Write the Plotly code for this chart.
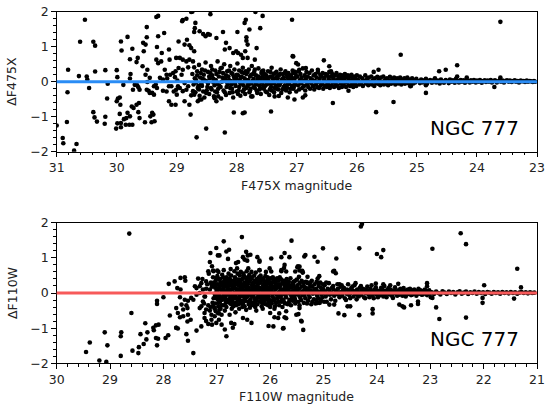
import plotly.graph_objects as go

# ---------------- F475X panel (top) : (magnitude, delta) ----------------
f475x_faint = [
    (30.53, 1.77), (30.61, 1.14), (30.39, 1.14), (30.36, 1.03), (30.81, 0.34), (30.63, 0.16), (30.50, 0.15),
    (30.49, 0.06), (30.46, -0.18), (30.82, -0.30), (30.36, 0.29), (31.0, -1.25), (30.83, -1.15), (30.90, -1.61),
    (30.89, -1.76), (30.67, -1.78), (30.71, -1.97), (30.39, -0.87), (30.37, -1.02), (30.33, -1.14), (30.19, 0.33),
    (30.15, -0.06), (30.16, -0.48), (30.19, -1.0), (30.20, -1.20), (30.0, 0.33), (29.99, 0.13), (30.0, -0.56),
    (29.98, -0.48), (29.95, -0.45), (29.94, -0.66), (30.01, -1.34), (29.99, -1.19), (29.93, -1.30), (29.95, -0.92),
    (29.93, 1.15), (29.92, 0.89), (29.82, 1.28), (29.78, 0.64), (29.74, 0.94), (29.78, 0.09), (29.77, 0.22),
    (29.89, -0.09), (29.73, -0.23), (29.70, -0.09), (29.66, -0.10), (29.64, -0.16), (29.62, -0.23), (29.88, -1.07),
    (29.84, -1.04), (29.82, -0.89), (29.78, -0.99), (29.75, -0.71), (29.74, -1.23), (29.72, -0.75), (29.85, -1.23),
    (29.93, -1.18), (29.79, -1.23), (29.67, -0.66), (29.63, -0.61), (29.64, -0.87), (29.62, -1.04), (29.67, 0.56),
    (29.65, 0.68), (29.56, 1.11), (29.55, 0.87), (29.52, 1.06), (29.50, 1.56), (29.50, 1.27), (29.57, 0.44),
    (29.49, 0.34), (29.45, 0.11), (29.52, 0.20), (29.49, -0.01), (29.50, -0.23), (29.47, -0.26), (29.45, -0.32),
    (29.44, -0.99), (29.41, -0.89), (29.39, -0.94), (29.53, -1.16), (29.42, -1.16), (29.37, -1.13), (29.38, -0.13),
    (29.35, -0.08), (29.33, -0.18), (29.41, -0.32), (29.38, -0.37), (29.34, 1.85), (29.31, 1.30), (29.33, 0.99),
    (29.21, 1.39), (29.34, 0.63), (29.31, 0.53), (29.26, 0.58), (29.25, 0.82), (29.20, 0.34), (29.13, 0.92),
    (29.12, 0.63), (29.17, 0.20), (29.11, 0.20), (29.06, 0.25), (29.02, 0.30), (29.01, 0.68), (28.97, 1.15),
    (29.28, 0.11), (29.23, 0.06), (29.16, 0.09), (29.23, -0.26), (29.17, -0.28), (29.13, -0.13), (29.09, -0.13),
    (29.05, -0.28), (29.00, -0.37), (29.13, -0.56), (29.09, -0.66), (29.02, -0.66), (28.98, -0.13), (29.03, 0.13),
    (28.99, 0.03),
]
f475x_mid = [
    (28.76, 1.99), (28.44, 1.93), (28.91, 1.73), (28.84, 1.80), (28.69, 1.68), (28.70, 1.53), (28.71, 1.42),
    (28.62, 1.44), (28.56, 1.36), (28.52, 1.30), (28.48, 1.36), (28.45, 1.34), (28.34, 1.25), (28.23, 1.42),
    (27.99, 1.42), (27.87, 1.68), (27.85, 1.77), (27.79, 1.49), (27.69, 1.99), (27.57, 1.88), (27.61, 1.53),
    (27.08, 1.77), (28.87, 1.06), (28.83, 1.20), (28.79, 1.04), (28.76, 0.96), (28.71, 0.87), (28.18, 1.11),
    (28.20, 0.92), (28.12, 0.96), (28.06, 0.82), (28.01, 0.87), (27.98, 0.82), (27.93, 0.77), (27.86, 0.87),
    (27.84, 1.27), (27.84, 1.17), (27.82, 1.06), (27.67, 0.96), (27.90, 0.68), (27.70, 0.63), (27.82, 0.68),
    (27.06, 0.72), (28.95, 0.68), (28.90, 0.63), (28.84, 0.58), (28.79, 0.63), (28.73, 0.58), (28.97, 0.39),
    (28.90, 0.34), (28.81, 0.41), (28.92, 0.20), (28.87, -0.04), (28.81, -0.13), (29.01, -0.23), (28.95, -0.18),
    (28.90, -0.27), (28.84, -0.23), (28.73, -0.27), (28.76, -0.39), (28.71, -0.37), (28.79, -0.66), (28.87, -0.56),
    (28.65, -0.56), (28.62, -0.51), (28.59, -0.51), (28.37, -0.47), (28.34, -0.56), (28.31, -0.42), (28.77, -0.94),
    (28.67, -1.59), (28.51, -1.34), (28.20, -1.45), (28.05, -0.88), (27.90, -0.90), (27.87, -0.88), (27.43, -0.85),
    (27.04, -0.51), (27.76, -0.42), (27.37, -0.42), (27.15, -0.45), (28.74, 2.0), (28.90, 1.76), (29.31, 1.88),
]
f475x_bright = [
    (27.01, 0.53), (26.98, 0.49), (26.96, 0.34), (26.85, 0.39), (26.55, 0.61), (26.46, 0.44), (26.43, 0.30),
    (26.65, 0.34), (26.40, -0.61), (26.14, -0.26), (25.72, 0.28), (25.64, 0.34), (25.68, -0.87), (25.39, -0.58),
    (25.27, 0.77), (25.11, -0.13), (26.90, -0.45), (27.30, -0.41), (26.86, -0.39), (27.07, 0.73), (23.61, 1.71),
    (24.63, 0.30), (24.52, 0.34), (24.33, 0.47), (24.33, 0.15), (24.17, 0.12), (24.85, -0.10), (24.85, -0.32),
    (23.71, -0.15), (23.61, 0.12), (25.10, -0.12),
]
f475x_band_a = [
    (28.74, 0.22), (28.72, -0.08), (28.71, 0.41), (28.69, -0.30), (28.68, 0.05), (28.66, 0.30), (28.65, -0.18),
    (28.63, 0.48), (28.62, -0.40), (28.61, 0.12), (28.59, -0.05), (28.58, 0.35), (28.56, -0.28), (28.55, 0.20),
    (28.54, -0.45), (28.52, 0.55), (28.51, 0.02), (28.49, -0.15), (28.48, 0.28), (28.46, -0.35), (28.45, 0.10),
    (28.43, 0.45), (28.42, -0.22), (28.41, 0.18), (28.39, -0.02), (28.38, -0.42), (28.36, 0.32), (28.35, 0.05),
    (28.33, -0.30), (28.32, 0.58), (28.30, 0.15), (28.29, -0.12), (28.27, 0.38), (28.26, -0.48), (28.25, 0.00),
    (28.23, 0.25), (28.22, -0.25), (28.21, 0.50), (28.19, 0.08), (28.18, -0.38), (28.16, 0.30), (28.15, -0.08),
    (28.14, 0.15), (28.12, -0.32), (28.11, 0.45), (28.10, 0.02), (28.08, -0.20), (28.07, 0.22), (28.06, -0.45),
    (28.04, 0.35), (28.03, -0.05), (28.02, 0.12), (28.00, -0.28), (27.99, 0.52), (27.98, 0.18), (27.96, -0.15),
    (27.95, 0.05), (27.94, -0.40), (27.92, 0.28), (27.91, -0.02), (27.90, 0.40), (27.88, -0.22), (27.87, 0.10),
    (27.86, -0.35), (27.84, 0.22), (27.83, 0.00), (27.82, -0.12), (27.80, 0.35), (27.79, -0.30), (27.78, 0.15),
    (27.76, -0.05), (27.75, 0.45), (27.74, -0.42), (27.72, 0.08), (27.71, 0.28), (27.70, -0.18), (27.68, 0.18),
    (27.67, -0.25), (27.66, 0.02), (27.64, 0.38), (27.63, -0.10), (27.62, 0.12), (27.60, -0.35), (27.59, 0.25),
    (27.58, -0.02), (27.56, 0.32), (27.55, -0.20), (27.54, 0.08), (27.52, -0.28), (27.51, 0.18), (27.50, -0.08),
    (27.48, 0.30), (27.47, 0.02), (27.46, -0.38), (27.44, 0.15), (27.43, -0.15), (27.42, 0.40), (27.40, -0.05),
    (27.39, 0.22), (27.38, -0.30), (27.36, 0.10), (27.35, -0.12), (27.34, 0.28), (27.32, 0.00), (27.31, -0.22),
    (27.30, 0.18), (27.28, -0.05), (27.27, 0.35), (27.26, -0.32), (27.24, 0.08), (27.23, 0.22), (27.22, -0.15),
    (27.20, 0.02), (27.19, 0.30), (27.18, -0.25), (27.16, 0.12), (27.15, -0.08), (27.14, 0.25), (27.12, -0.30),
    (27.11, 0.05), (27.10, 0.18), (27.08, -0.12), (27.07, 0.32), (27.06, -0.20), (27.04, 0.10), (27.03, -0.02),
    (27.02, 0.22), (27.01, -0.28), (28.70, 0.10), (28.64, -0.12), (28.57, 0.08), (28.50, -0.25), (28.44, 0.25),
    (28.37, -0.10), (28.31, -0.20), (28.24, 0.12), (28.17, -0.15), (28.13, 0.05), (28.09, -0.08), (28.05, 0.15),
    (28.01, 0.08), (27.97, -0.25), (27.93, 0.12), (27.89, -0.10), (27.85, 0.30), (27.81, 0.05), (27.77, -0.20),
    (27.73, 0.22), (27.69, -0.08), (27.65, 0.10), (27.61, -0.18), (27.57, 0.15), (27.53, -0.12), (27.49, 0.05),
    (27.45, -0.22), (27.41, 0.12), (27.37, -0.18), (27.33, 0.15), (27.29, -0.10), (27.25, 0.05), (27.21, -0.18),
    (27.17, 0.20), (27.13, -0.05), (27.09, 0.12), (27.05, -0.15), (27.03, 0.28),
]
f475x_core = [
    (28.68, -0.02), (28.66, 0.18), (28.63, -0.22), (28.60, 0.25), (28.58, -0.12), (28.55, 0.06), (28.53, 0.32),
    (28.51, -0.32), (28.48, -0.05), (28.46, 0.15), (28.43, -0.18), (28.41, 0.35), (28.39, 0.08), (28.36, -0.28),
    (28.34, 0.22), (28.32, -0.06), (28.29, 0.28), (28.27, -0.15), (28.25, 0.40), (28.22, 0.05), (28.20, -0.30),
    (28.18, 0.18), (28.16, -0.02), (28.13, 0.32), (28.11, -0.18), (28.09, 0.25), (28.07, -0.30), (28.04, 0.08),
    (28.02, -0.12), (28.00, 0.20), (27.98, -0.35), (27.96, 0.32), (27.94, -0.05), (27.92, 0.15), (27.90, -0.28),
    (27.88, 0.25), (27.86, 0.05), (27.84, -0.18), (27.82, 0.28), (27.80, -0.08), (27.78, -0.25), (27.76, 0.20),
    (27.74, 0.02), (27.72, -0.15), (27.70, 0.35), (27.68, -0.02), (27.66, -0.32), (27.64, 0.15), (27.62, -0.22),
    (27.60, 0.08), (27.58, 0.30), (27.56, -0.10), (27.54, 0.22), (27.52, 0.05), (27.50, -0.30), (27.48, 0.12),
    (27.46, -0.05), (27.44, 0.28), (27.42, -0.25), (27.40, 0.08), (27.38, -0.02), (27.36, 0.25), (27.34, -0.20),
    (27.32, 0.10), (27.30, -0.08), (27.28, 0.22), (27.26, 0.00), (27.24, -0.22), (27.22, 0.12), (27.20, -0.10),
    (27.18, 0.25), (27.16, -0.18), (27.14, 0.05), (27.12, 0.15), (27.10, -0.20), (27.08, 0.08), (27.06, 0.25),
    (27.04, -0.08), (27.02, 0.12),
]
f475x_band_b = [
    (26.99, 0.15), (26.98, -0.10), (26.97, 0.30), (26.96, -0.22), (26.95, 0.05), (26.94, 0.22), (26.93, -0.05),
    (26.92, 0.12), (26.91, -0.18), (26.90, 0.38), (26.89, 0.02), (26.88, -0.12), (26.87, 0.18), (26.86, -0.25),
    (26.85, 0.08), (26.84, 0.28), (26.83, -0.08), (26.82, 0.15), (26.81, -0.15), (26.80, 0.00), (26.79, 0.25),
    (26.78, -0.20), (26.77, 0.10), (26.76, -0.05), (26.75, 0.32), (26.74, 0.05), (26.73, -0.12), (26.72, 0.18),
    (26.71, -0.22), (26.70, 0.02), (26.69, 0.22), (26.68, -0.08), (26.67, 0.12), (26.66, -0.15), (26.65, 0.28),
    (26.64, 0.00), (26.63, -0.18), (26.62, 0.08), (26.61, 0.20), (26.60, -0.10), (26.59, 0.15), (26.58, -0.05),
    (26.57, 0.25), (26.56, -0.20), (26.55, 0.05), (26.54, 0.12), (26.53, -0.12), (26.52, 0.22), (26.51, 0.00),
    (26.50, -0.15), (26.49, 0.18), (26.48, -0.08), (26.47, 0.08), (26.46, 0.28), (26.45, -0.18), (26.44, 0.02),
    (26.43, 0.15), (26.42, -0.10), (26.41, 0.22), (26.40, -0.02), (26.39, 0.10), (26.38, -0.15), (26.37, 0.18),
    (26.36, 0.00), (26.35, -0.08), (26.34, 0.25), (26.33, 0.05), (26.32, -0.12), (26.31, 0.15), (26.30, -0.18),
    (26.29, 0.08), (26.28, 0.20), (26.27, -0.05), (26.26, 0.12), (26.25, -0.15), (26.24, 0.02), (26.23, 0.18),
    (26.22, -0.10), (26.21, 0.08), (26.20, 0.22), (26.19, -0.02), (26.18, -0.15), (26.17, 0.12), (26.16, 0.00),
    (26.15, 0.18), (26.14, -0.10), (26.13, 0.05), (26.12, 0.15), (26.11, -0.12), (26.10, 0.02), (26.09, 0.20),
    (26.08, -0.08), (26.07, 0.10), (26.06, -0.15), (26.05, 0.05), (26.04, 0.15), (26.03, -0.05), (26.02, 0.08),
    (26.01, -0.12), (26.00, 0.18),
]
f475x_band_c = [
    (25.98, 0.05), (25.96, -0.08), (25.95, 0.15), (25.93, -0.02), (25.91, 0.10), (25.90, -0.12), (25.88, 0.02),
    (25.86, 0.18), (25.85, -0.05), (25.83, 0.08), (25.81, -0.10), (25.80, 0.12), (25.78, 0.00), (25.76, 0.15),
    (25.75, -0.08), (25.73, 0.05), (25.71, -0.12), (25.70, 0.10), (25.68, -0.02), (25.66, 0.14), (25.65, -0.06),
    (25.63, 0.06), (25.61, -0.10), (25.60, 0.12), (25.58, 0.00), (25.56, 0.15), (25.55, -0.08), (25.53, 0.05),
    (25.51, -0.05), (25.50, 0.10), (25.48, -0.10), (25.46, 0.02), (25.45, 0.14), (25.43, -0.06), (25.41, 0.08),
    (25.40, -0.02), (25.38, 0.12), (25.36, -0.08), (25.35, 0.04), (25.33, 0.10), (25.31, -0.05), (25.30, 0.02),
    (25.28, 0.12), (25.26, -0.08), (25.25, 0.06), (25.23, -0.02), (25.21, 0.10), (25.20, -0.06), (25.18, 0.04),
    (25.16, 0.12), (25.15, -0.04), (25.13, 0.06), (25.11, -0.08), (25.10, 0.02), (25.08, 0.10), (25.06, -0.05),
    (25.05, 0.05), (25.03, -0.02), (25.01, 0.08),
]
f475x_band_d = [
    (24.98, 0.02), (24.95, -0.04), (24.93, 0.06), (24.90, -0.02), (24.88, 0.04), (24.85, 0.08), (24.83, -0.05),
    (24.80, 0.02), (24.78, 0.05), (24.75, -0.03), (24.72, 0.04), (24.70, 0.10), (24.68, -0.02), (24.65, 0.03),
    (24.62, -0.05), (24.60, 0.06), (24.57, 0.01), (24.55, -0.03), (24.52, 0.05), (24.50, 0.02), (24.47, -0.04),
    (24.45, 0.06), (24.42, 0.00), (24.40, 0.04), (24.37, -0.03), (24.35, 0.08), (24.32, 0.02), (24.30, -0.02),
    (24.27, 0.05), (24.25, 0.00), (24.22, 0.04), (24.20, -0.03), (24.17, 0.06), (24.15, 0.01), (24.12, -0.02),
    (24.10, 0.04), (24.07, 0.00), (24.05, 0.05), (24.02, -0.02), (24.00, 0.03), (23.97, 0.00), (23.95, 0.05),
    (23.92, -0.03), (23.90, 0.02), (23.87, 0.04), (23.85, -0.01), (23.82, 0.03), (23.80, 0.00), (23.77, 0.05),
    (23.75, -0.02), (23.72, 0.02), (23.70, 0.04), (23.67, -0.02), (23.65, 0.01), (23.62, 0.05), (23.60, 0.00),
    (23.57, 0.03), (23.55, -0.02), (23.52, 0.02), (23.50, 0.04), (23.47, 0.00), (23.45, 0.03), (23.42, -0.01),
    (23.40, 0.02), (23.37, 0.04), (23.35, 0.00), (23.32, 0.02), (23.30, -0.02), (23.27, 0.03), (23.25, 0.01),
    (23.22, 0.02), (23.20, -0.01), (23.17, 0.03), (23.15, 0.00), (23.12, 0.02), (23.10, 0.01), (23.07, -0.01),
    (23.05, 0.02), (23.03, 0.00),
]

# ---------------- F110W panel (bottom) : (magnitude, delta) ----------------
f110w_faint = [
    (28.64, 1.69), (27.90, 0.26), (27.79, 0.33), (28.00, -0.12), (28.12, -0.22), (28.12, -0.31), (28.60, -0.57),
    (27.88, -0.64), (29.45, -1.68), (29.38, -1.41), (29.10, -1.12), (29.05, -1.49), (29.20, -1.92), (29.07, -1.96),
    (28.80, -1.23), (28.79, -1.12), (28.80, -1.79), (28.58, -1.64), (28.46, -1.54), (28.47, -1.71), (28.43, -1.17),
    (28.37, -1.45), (28.32, -1.32), (28.30, -1.12), (28.34, -0.86), (28.19, -0.99), (28.18, -1.06), (28.14, -0.92),
    (28.09, -0.90), (28.14, -1.28), (28.12, -1.49), (28.10, -1.30), (27.96, -1.28), (27.91, -1.20), (27.76, -0.99),
    (27.73, -1.01), (27.69, -0.12),
]
f110w_mid = [
    (26.87, 1.47), (26.53, 1.59), (25.60, 1.49), (27.01, 1.28), (27.12, 1.14), (26.98, 1.07), (26.95, 1.07),
    (26.82, 1.18), (26.77, 1.23), (26.79, 0.97), (26.60, 0.88), (26.64, 0.85), (26.51, 1.02), (26.45, 1.17),
    (26.42, 1.07), (26.37, 1.09), (26.43, 0.92), (26.48, 0.95), (26.24, 1.02), (26.20, 0.92), (25.98, 0.98),
    (25.73, 1.14), (25.79, 1.02), (25.64, 1.02), (25.79, 0.62), (25.74, 0.71), (25.48, 0.76), (27.13, 0.88),
    (27.07, 0.64), (26.99, 0.64), (27.09, 0.76), (27.16, 0.62), (27.68, 0.43), (27.60, 0.45), (27.59, 0.35),
    (27.35, 0.41), (27.74, 0.14), (27.68, 0.10), (27.41, 0.19), (27.38, 0.14), (27.26, 0.10), (27.20, 0.12),
    (27.60, -0.19), (27.54, -0.22), (27.66, -0.33), (27.57, -0.35), (27.48, -0.14), (27.44, -0.19), (27.76, -0.43),
    (27.73, -0.57), (27.63, -0.47), (27.55, -0.43), (27.69, -0.69), (27.63, -0.66), (27.54, -0.62), (27.49, -0.76),
    (27.55, -0.81), (27.76, -0.99), (27.57, -1.17), (27.54, -1.36), (27.44, -1.71), (27.38, -1.07), (27.29, -0.95),
    (27.23, -0.71), (27.20, -0.80), (27.16, -0.88), (27.10, -0.76), (27.04, -0.66), (27.09, -0.90), (27.01, -0.85),
    (26.96, -0.76), (26.91, -0.90), (26.85, -1.04), (26.82, -1.23), (26.73, -0.85), (26.70, -0.99), (26.67, -0.88),
    (26.51, -0.71), (26.43, -0.76), (26.35, -0.85), (25.94, -0.95), (25.85, -0.71), (25.73, -0.69), (25.70, -0.52),
    (25.76, -1.01), (26.00, -0.57), (25.92, -0.45), (27.32, -0.43), (27.29, -0.38), (27.23, -0.57), (27.20, -0.47),
    (27.16, -0.35), (27.13, -0.50), (27.10, -0.62), (27.26, -0.24), (27.07, -0.38), (27.04, -0.43), (26.98, -0.57),
    (26.95, -0.47), (26.91, -0.62), (27.38, -0.05), (27.32, 0.00), (27.23, -0.10), (27.29, 0.28), (27.20, 0.33),
    (27.10, 0.24), (27.32, 0.19),
]
f110w_bright = [
    (24.30, 1.89), (24.28, 1.96), (24.33, 1.27), (24.00, 1.11), (23.92, 1.02), (23.88, 1.22), (25.34, 1.08),
    (25.36, 1.04), (25.01, 1.27), (25.17, 1.03), (25.11, 0.89), (24.76, 0.98), (24.80, 0.63), (25.08, 0.48),
    (25.11, 0.41), (25.49, 0.73), (25.45, 0.64), (25.39, 0.59), (25.30, 0.46), (25.51, -0.62), (25.47, -0.60),
    (25.41, -0.81), (25.38, -1.05), (25.45, -0.43), (24.72, -0.58), (24.61, -0.63), (24.33, -0.63), (24.08, -0.46),
    (24.08, -0.58), (23.58, -0.33), (23.52, -0.38), (23.49, -0.41), (23.36, -0.35), (24.89, -0.33), (24.80, -0.33),
    (24.55, -0.38), (24.50, -0.38), (25.11, -0.28), (23.60, 0.26), (22.43, 1.70), (22.33, 1.39), (22.96, 1.26),
    (21.37, 0.69), (21.99, 0.22), (21.30, 0.16), (23.06, 0.28), (23.06, 0.19), (22.83, -0.74), (22.33, -0.70),
    (22.89, -0.41), (22.96, -0.14), (22.99, -0.12), (23.23, -0.24), (23.23, -0.31), (22.02, -0.14), (22.02, -0.28),
    (21.43, -0.16), (25.75, -1.00), (26.03, -0.94), (25.70, -0.72), (25.42, -0.79), (25.83, -0.58), (25.92, -0.69),
    (26.20, 0.89), (26.20, 0.65), (26.01, 0.70), (25.98, 0.61), (25.79, 0.65), (25.73, 0.80), (25.70, 0.61),
    (25.53, 0.61), (25.45, 0.75), (25.40, 0.63), (25.39, 0.58), (25.46, 0.46), (25.30, 0.30), (24.82, 0.61),
    (24.77, 0.56), (24.95, 0.30), (24.70, 0.25), (24.40, 0.28), (24.02, 0.27), (23.88, 0.25), (23.75, 0.22),
]
f110w_band_a = [
    (27.27, 0.40), (27.24, -0.30), (27.22, -0.10), (27.18, 0.25),
    (27.15, 0.55), (27.13, 0.10), (27.12, -0.40), (27.11, 0.30),
    (27.09, 0.18), (27.08, -0.28), (27.07, 0.45), (27.06, -0.15),
    (27.05, 0.22), (27.04, -0.45), (27.06, 0.62), (27.03, -0.08), (27.02, 0.35), (27.01, 0.00),
    (27.03, -0.30), (27.00, 0.12), (27.02, -0.52), (26.99, 0.48), (26.98, -0.18), (27.00, 0.08),
    (26.97, -0.38), (26.99, 0.25), (26.96, 0.15), (26.95, -0.05), (26.97, 0.60), (26.94, -0.25),
    (26.96, -0.58), (26.93, 0.30), (26.92, -0.12), (26.94, 0.40), (26.91, 0.02), (26.93, -0.45),
    (26.90, 0.52), (26.89, 0.20), (26.91, -0.20), (26.88, -0.35), (26.90, 0.05), (26.87, -0.08),
    (26.86, 0.35), (26.88, 0.10), (26.85, -0.50), (26.87, 0.65), (26.84, 0.25), (26.83, -0.28),
    (26.85, 0.00), (26.82, 0.45), (26.84, -0.15), (26.81, 0.40), (26.80, 0.12), (26.82, -0.40),
    (26.79, -0.05), (26.81, 0.28), (26.78, 0.55), (26.77, -0.18), (26.79, 0.18), (26.76, -0.62),
    (26.78, 0.02), (26.75, 0.30), (26.74, -0.10), (26.76, 0.42), (26.73, -0.32), (26.75, 0.08),
    (26.74, 0.68), (26.72, 0.20), (26.71, -0.25), (26.73, 0.50), (26.70, -0.05), (26.72, -0.45),
    (26.71, 0.12), (26.69, 0.35), (26.68, 0.00), (26.70, -0.18), (26.67, 0.62), (26.69, -0.38),
    (26.68, 0.22), (26.66, 0.45), (26.65, -0.08), (26.67, 0.15), (26.64, -0.28), (26.66, 0.30),
    (26.65, -0.55), (26.63, 0.28), (26.62, 0.05), (26.64, -0.35), (26.61, 0.55), (26.63, -0.15),
    (26.62, 0.70), (26.60, 0.38), (26.59, -0.20), (26.61, 0.10), (26.58, -0.45), (26.60, 0.22),
    (26.59, 0.00), (26.57, 0.50), (26.56, 0.15), (26.58, -0.12), (26.55, -0.30), (26.57, 0.32),
    (26.56, 0.05), (26.54, 0.25), (26.53, -0.05), (26.55, 0.60), (26.52, -0.40), (26.54, 0.12),
    (26.53, -0.22), (26.51, 0.42), (26.50, 0.02), (26.52, -0.28), (26.49, 0.18), (26.51, -0.10),
    (26.50, 0.55), (26.48, 0.30), (26.47, -0.15), (26.49, 0.48), (26.46, 0.08), (26.48, -0.38),
    (26.47, -0.05), (26.45, 0.20), (26.44, 0.38), (26.46, -0.22), (26.43, 0.00), (26.45, -0.48),
    (26.44, 0.62), (26.42, 0.45), (26.41, 0.12), (26.43, -0.10), (26.40, -0.32), (26.42, 0.25),
    (26.41, 0.70), (26.39, 0.32), (26.38, -0.05), (26.40, 0.15), (26.37, -0.25), (26.39, 0.52),
    (26.38, -0.42), (26.36, 0.40), (26.35, 0.05), (26.37, -0.18), (26.34, 0.22), (26.36, -0.35),
    (26.35, 0.60), (26.33, 0.28), (26.32, -0.10), (26.34, 0.45), (26.31, 0.10), (26.33, -0.28),
    (26.32, 0.00), (26.30, 0.50), (26.29, 0.18), (26.31, -0.05), (26.28, -0.40), (26.30, 0.30),
    (26.29, -0.15), (26.27, 0.35), (26.26, 0.00), (26.28, -0.22), (26.25, 0.12), (26.27, 0.58),
    (26.26, -0.50), (26.24, 0.22), (26.23, -0.12), (26.25, 0.40), (26.22, 0.05), (26.24, -0.32),
    (26.23, 0.15), (26.21, 0.45), (26.20, 0.10), (26.22, -0.08), (26.19, -0.25), (26.21, 0.28),
    (26.20, 0.65), (26.18, 0.30), (26.17, -0.02), (26.19, 0.15), (26.16, -0.38), (26.18, 0.50),
    (26.17, -0.15), (26.15, 0.38), (26.14, 0.08), (26.16, -0.18), (26.13, 0.22), (26.15, -0.05),
    (26.14, -0.45), (26.12, 0.25), (26.11, -0.10), (26.13, 0.42), (26.10, 0.00), (26.12, -0.30),
    (26.11, 0.15), (26.09, 0.48), (26.08, 0.12), (26.10, -0.22), (26.07, 0.30), (26.09, -0.08),
    (26.08, 0.60), (26.06, 0.35), (26.05, -0.05), (26.07, 0.18), (26.04, -0.35), (26.06, 0.05),
    (26.05, -0.18), (26.03, 0.28), (26.02, 0.10), (26.04, -0.12), (26.01, 0.40), (26.03, -0.28),
    (26.02, 0.02), (26.00, 0.42), (25.99, 0.00), (26.01, -0.20), (25.98, 0.15), (26.00, -0.40),
    (25.99, 0.25),
]
f110w_core = [
    (27.05, 0.30), (27.03, 0.15), (27.01, -0.15), (26.99, 0.02), (26.97, -0.28), (26.95, 0.38), (26.93, 0.10),
    (26.91, -0.35), (26.89, 0.28), (26.87, -0.18), (26.85, 0.18), (26.83, 0.05), (26.81, -0.25), (26.79, 0.35),
    (26.77, 0.08), (26.75, -0.15), (26.73, 0.25), (26.71, -0.05), (26.69, 0.12), (26.67, -0.30), (26.65, 0.40),
    (26.63, 0.00), (26.61, -0.22), (26.59, 0.28), (26.57, -0.08), (26.55, 0.18), (26.53, 0.38), (26.51, -0.30),
    (26.49, 0.05), (26.47, 0.25), (26.45, -0.12), (26.43, 0.32), (26.41, -0.25), (26.39, 0.08), (26.37, 0.42),
    (26.35, -0.08), (26.33, 0.15), (26.31, -0.35), (26.29, 0.35), (26.27, 0.05), (26.25, -0.20), (26.23, 0.28),
    (26.21, -0.02), (26.19, 0.40), (26.17, 0.12), (26.15, -0.28), (26.13, 0.05), (26.11, 0.32), (26.09, -0.15),
    (26.07, 0.22), (26.05, 0.45), (26.03, -0.05), (26.01, 0.15), (25.99, -0.30), (25.97, 0.20), (25.95, 0.02),
    (25.93, -0.15), (25.91, 0.30), (25.89, -0.02), (25.87, 0.15), (25.85, -0.25), (25.83, 0.25), (25.81, -0.10),
    (25.79, 0.38), (25.77, 0.05), (25.75, -0.20), (25.73, 0.22), (25.71, -0.05), (25.69, 0.30), (25.67, 0.10),
    (25.65, -0.28), (25.63, 0.18), (25.61, 0.00), (25.59, -0.18), (25.57, 0.25), (25.55, 0.08), (25.53, -0.22),
    (25.51, 0.15), (27.04, -0.02), (27.00, 0.42), (26.96, -0.10), (26.92, 0.22), (26.88, 0.45), (26.84, -0.08),
    (26.80, 0.22), (26.76, -0.28), (26.72, 0.35), (26.68, -0.12), (26.64, 0.12), (26.60, -0.32), (26.56, 0.30),
    (26.52, 0.10), (26.48, -0.22), (26.44, 0.15), (26.40, 0.45), (26.36, -0.02), (26.32, 0.25), (26.28, -0.28),
    (26.24, 0.05), (26.20, 0.35), (26.16, -0.12), (26.12, 0.10), (26.08, -0.32), (26.04, 0.28), (26.00, 0.08),
    (25.96, -0.22), (25.92, 0.18), (25.88, 0.35), (25.84, -0.05), (25.80, 0.10), (25.76, 0.28), (25.72, -0.30),
    (25.68, 0.05), (25.64, 0.20), (25.60, -0.05), (25.56, 0.32),
]
f110w_band_b = [
    (25.97, 0.30), (25.96, -0.10), (25.98, 0.08), (25.97, -0.30), (25.95, 0.45),
    (25.93, 0.15), (25.92, -0.20), (25.94, 0.38), (25.93, 0.00), (25.91, -0.38),
    (25.89, 0.25), (25.88, -0.05), (25.90, 0.10), (25.89, -0.28), (25.87, 0.42),
    (25.85, 0.35), (25.84, 0.02), (25.86, -0.15), (25.85, 0.18), (25.83, -0.35),
    (25.81, 0.20), (25.80, -0.08), (25.82, 0.45), (25.81, 0.05), (25.79, -0.25),
    (25.77, 0.30), (25.76, 0.10), (25.78, -0.18), (25.77, -0.40), (25.75, 0.00),
    (25.73, 0.12), (25.72, -0.05), (25.74, 0.35), (25.73, -0.28), (25.71, 0.22),
    (25.69, 0.40), (25.68, 0.05), (25.70, -0.12), (25.69, 0.18), (25.67, -0.32),
    (25.65, 0.25), (25.64, -0.20), (25.66, 0.08), (25.65, 0.32), (25.63, -0.02),
    (25.61, 0.15), (25.60, -0.10), (25.62, 0.42), (25.61, -0.35), (25.59, 0.05),
    (25.57, 0.30), (25.56, 0.00), (25.58, -0.22), (25.57, 0.18), (25.55, -0.08),
    (25.53, 0.35), (25.52, 0.10), (25.54, -0.15), (25.53, -0.30), (25.51, 0.02),
    (25.49, 0.22), (25.48, -0.05), (25.50, 0.38), (25.49, 0.08), (25.47, -0.25),
    (25.45, 0.28), (25.44, -0.12), (25.46, 0.12), (25.45, -0.35), (25.43, 0.00),
    (25.41, 0.35), (25.40, 0.05), (25.42, -0.20), (25.41, 0.18), (25.39, -0.05),
    (25.37, 0.20), (25.36, -0.08), (25.38, 0.30), (25.37, -0.28), (25.35, 0.10),
    (25.33, 0.32), (25.32, 0.02), (25.34, -0.15), (25.33, 0.15), (25.31, -0.30),
    (25.29, 0.12), (25.28, -0.05), (25.30, 0.28), (25.29, -0.22), (25.27, 0.05),
    (25.25, 0.30), (25.24, 0.08), (25.26, -0.12), (25.25, 0.20), (25.23, -0.32),
    (25.21, 0.18), (25.20, -0.02), (25.22, 0.35), (25.21, -0.25), (25.19, 0.05),
    (25.17, 0.25), (25.16, 0.10), (25.18, -0.18), (25.17, 0.00), (25.15, -0.30),
    (25.13, 0.32), (25.12, -0.08), (25.14, 0.12), (25.13, -0.22), (25.11, 0.05),
    (25.09, 0.20), (25.08, 0.02), (25.10, -0.15), (25.09, 0.28), (25.07, -0.28),
    (25.05, 0.15), (25.04, -0.05), (25.06, 0.30), (25.05, -0.20), (25.03, 0.08),
    (25.01, 0.25), (25.00, 0.00), (25.02, -0.12), (25.01, 0.12), (24.99, -0.25),
]
f110w_band_c = [
    (24.97, 0.05), (24.96, -0.10), (24.98, 0.22), (24.93, -0.02), (24.92, 0.12), (24.94, -0.25),
    (24.89, 0.08), (24.88, -0.05), (24.90, 0.28), (24.85, 0.00), (24.84, 0.15), (24.86, -0.18),
    (24.81, 0.10), (24.80, -0.08), (24.82, 0.20), (24.77, -0.03), (24.76, 0.05), (24.78, -0.22),
    (24.73, 0.12), (24.72, -0.05), (24.74, 0.25), (24.69, 0.02), (24.68, 0.18), (24.70, -0.12),
    (24.65, -0.08), (24.64, 0.08), (24.66, 0.22), (24.61, 0.05), (24.60, -0.15), (24.62, 0.15),
    (24.57, -0.02), (24.56, 0.10), (24.58, -0.20), (24.53, 0.08), (24.52, -0.06), (24.54, 0.25),
    (24.49, 0.00), (24.48, 0.14), (24.50, -0.15), (24.45, 0.06), (24.44, -0.10), (24.46, 0.18),
    (24.41, -0.03), (24.40, 0.05), (24.42, 0.22), (24.37, 0.10), (24.36, -0.06), (24.38, -0.18),
    (24.33, 0.02), (24.32, 0.15), (24.34, -0.10), (24.29, -0.05), (24.28, 0.08), (24.30, 0.20),
    (24.25, 0.04), (24.24, -0.12), (24.26, 0.12), (24.21, 0.00), (24.20, 0.10), (24.22, -0.15),
    (24.17, 0.06), (24.16, -0.04), (24.18, 0.18), (24.13, -0.02), (24.12, 0.12), (24.14, -0.12),
    (24.09, 0.05), (24.08, -0.08), (24.10, 0.22), (24.05, 0.00), (24.04, 0.10), (24.06, -0.15),
    (24.01, 0.08), (24.00, -0.05), (24.02, 0.16), (23.97, -0.02), (23.96, 0.06), (23.98, -0.12),
    (23.93, 0.04), (23.92, 0.15), (23.94, -0.06), (23.89, 0.00), (23.88, -0.10), (23.90, 0.10),
    (23.85, 0.06), (23.84, -0.03), (23.86, 0.20), (23.81, 0.02), (23.80, 0.10), (23.82, -0.12),
    (23.77, -0.04), (23.76, 0.05), (23.78, 0.14), (23.73, 0.03), (23.72, -0.08), (23.74, 0.10),
    (23.69, 0.00), (23.68, 0.06), (23.70, -0.14), (23.65, 0.05), (23.64, -0.03), (23.66, 0.16),
    (23.61, -0.02), (23.60, 0.08), (23.62, -0.08), (23.57, 0.04), (23.56, 0.12), (23.58, -0.05),
    (23.53, 0.00), (23.52, -0.08), (23.54, 0.08), (23.49, 0.05), (23.48, -0.02), (23.50, 0.14),
    (23.45, 0.02), (23.44, 0.08), (23.46, -0.10), (23.41, -0.03), (23.40, 0.05), (23.42, 0.10),
    (23.37, 0.04), (23.36, -0.06), (23.38, 0.12), (23.33, 0.00), (23.32, 0.08), (23.34, -0.05),
    (23.29, 0.05), (23.28, -0.02), (23.30, 0.10), (23.25, 0.02), (23.24, 0.06), (23.26, -0.08),
    (23.21, -0.02), (23.20, 0.04), (23.22, 0.12), (23.17, 0.03), (23.16, -0.05), (23.18, 0.08),
    (23.13, 0.00), (23.12, 0.06), (23.14, -0.04), (23.09, 0.04), (23.08, -0.02), (23.10, 0.10),
    (23.05, 0.01), (23.04, 0.05), (23.06, -0.06), (23.01, -0.02), (23.00, 0.03), (23.02, 0.08),
]
f110w_band_d = [
    (22.97, 0.02), (22.93, -0.03), (22.89, 0.04), (22.85, 0.00), (22.81, -0.04), (22.77, 0.05), (22.73, 0.01),
    (22.69, -0.03), (22.65, 0.04), (22.61, 0.00), (22.57, 0.03), (22.53, -0.04), (22.49, 0.02), (22.45, 0.05),
    (22.41, -0.02), (22.37, 0.01), (22.33, 0.04), (22.29, -0.03), (22.25, 0.02), (22.21, 0.00), (22.17, 0.04),
    (22.13, -0.02), (22.09, 0.03), (22.05, 0.00), (22.01, 0.02), (21.97, -0.03), (21.93, 0.03), (21.89, 0.01),
    (21.85, -0.02), (21.81, 0.03), (21.77, 0.00), (21.73, 0.02), (21.69, -0.02), (21.65, 0.03), (21.61, 0.00),
    (21.57, 0.02), (21.53, -0.01), (21.49, 0.03), (21.45, 0.00), (21.41, 0.02), (21.37, -0.02), (21.33, 0.01),
    (21.29, 0.03), (21.25, 0.00), (21.21, 0.02), (21.17, -0.01), (21.13, 0.02), (21.09, 0.00), (21.05, 0.01),
]

x_ticks_top = [31, 30, 29, 28, 27, 26, 25, 24, 23]
x_ticks_bottom = [30, 29, 28, 27, 26, 25, 24, 23, 22, 21]
y_ticks = [-2, -1, 0, 1, 2]

top_pts = (f475x_faint + f475x_mid + f475x_bright + f475x_band_a + f475x_core + f475x_band_b
           + f475x_band_c + f475x_band_d)
bot_pts = (f110w_faint + f110w_mid + f110w_bright + f110w_band_a + f110w_core + f110w_band_b
           + f110w_band_c + f110w_band_d)

FONT = "DejaVu Sans"
FS = 12.5
marker = dict(color="black", size=4.6, line=dict(width=0))

fig = go.Figure()
fig.add_trace(go.Scatter(x=[p[0] for p in top_pts], y=[p[1] for p in top_pts], mode="markers",
                         marker=marker, xaxis="x", yaxis="y", showlegend=False))
fig.add_trace(go.Scatter(x=[p[0] for p in bot_pts], y=[p[1] for p in bot_pts], mode="markers",
                         marker=marker, xaxis="x2", yaxis="y2", showlegend=False))

XD = [56.7 / 545, 537 / 545]
axis_common = dict(showline=True, mirror=True, linecolor="black", linewidth=1, showgrid=False, zeroline=False,
                   ticks="outside", ticklen=4.5, tickwidth=1, tickcolor="black",
                   tickfont=dict(family=FONT, size=FS, color="#222"), automargin=False,
                   minor=dict(ticks="outside", ticklen=2.5, tickwidth=0.8, tickcolor="black", showgrid=False))

fig.update_layout(
    width=545, height=408, margin=dict(l=0, r=0, t=0, b=0),
    paper_bgcolor="white", plot_bgcolor="white",
    xaxis=dict(domain=XD, range=[31, 23], anchor="y", tickmode="array", tickvals=x_ticks_top, **axis_common),
    yaxis=dict(domain=[1 - 151.7 / 408, 1 - 11.7 / 408], range=[-2, 2], anchor="x", tickmode="array",
               tickvals=y_ticks, **axis_common),
    xaxis2=dict(domain=XD, range=[30, 21], anchor="y2", tickmode="array", tickvals=x_ticks_bottom, **axis_common),
    yaxis2=dict(domain=[1 - 363.3 / 408, 1 - 222.7 / 408], range=[-2, 2], anchor="x2", tickmode="array",
                tickvals=y_ticks, **axis_common),
)
fig.update_xaxes(minor_dtick=0.2, minor_tick0=0)
fig.update_yaxes(minor_dtick=0.2, minor_tick0=0)

fig.add_shape(type="line", xref="x domain", yref="y", x0=0, x1=1, y0=0, y1=0,
              line=dict(color="#2a8cf5", width=3), layer="above")
fig.add_shape(type="line", xref="x2 domain", yref="y2", x0=0, x1=1, y0=0, y1=0,
              line=dict(color="#f75a5a", width=3), layer="above")

ann_font = dict(family=FONT, size=FS, color="#222")
fig.add_annotation(text="F475X magnitude", xref="paper", yref="paper", x=296.8 / 545, y=1 - 186 / 408,
                   showarrow=False, font=ann_font, xanchor="center", yanchor="middle")
fig.add_annotation(text="F110W magnitude", xref="paper", yref="paper", x=296.8 / 545, y=1 - 396 / 408,
                   showarrow=False, font=ann_font, xanchor="center", yanchor="middle")
fig.add_annotation(text="ΔF475X", xref="paper", yref="paper", x=12 / 545, y=1 - 81.7 / 408, textangle=-90,
                   showarrow=False, font=ann_font, xanchor="center", yanchor="middle")
fig.add_annotation(text="ΔF110W", xref="paper", yref="paper", x=12 / 545, y=1 - 293 / 408, textangle=-90,
                   showarrow=False, font=ann_font, xanchor="center", yanchor="middle")
fig.add_annotation(text="NGC 777", xref="x domain", yref="y domain", x=0.967, y=0.17,
                   showarrow=False, font=dict(family=FONT, size=20, color="black"), xanchor="right", yanchor="middle")
fig.add_annotation(text="NGC 777", xref="x2 domain", yref="y2 domain", x=0.967, y=0.173,
                   showarrow=False, font=dict(family=FONT, size=20, color="black"), xanchor="right", yanchor="middle")

fig.write_html("out.html")
